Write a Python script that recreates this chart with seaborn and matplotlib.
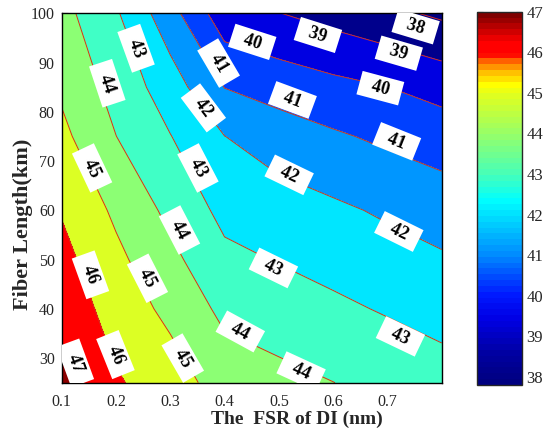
import matplotlib
matplotlib.use("Agg")
import matplotlib.pyplot as plt
import seaborn as sns
import numpy as np
from matplotlib.colors import LinearSegmentedColormap, Normalize
from matplotlib.cm import ScalarMappable

# FSR of the DI (nm) and fiber length (km) grid
fsr = [0.1, 0.2, 0.3, 0.4, 0.5, 0.6, 0.7, 0.8]
length = [25, 40, 50, 60, 75, 85, 100]

# values, one row per fiber length
osnr = [
    [47.19, 46.11, 45.48, 44.55, 44.28, 44.01, 43.72, 43.43],  # 25 km
    [46.65, 45.58, 44.75, 43.76, 43.48, 43.19, 42.91, 42.63],  # 40 km
    [46.30, 45.23, 44.25, 43.23, 42.95, 42.68, 42.40, 42.12],  # 50 km
    [45.93, 44.82, 43.76, 42.73, 42.46, 42.18, 41.86, 41.53],  # 60 km
    [45.24, 44.01, 43.03, 42.01, 41.50, 41.13, 40.81, 40.53],  # 75 km
    [44.83, 43.65, 42.49, 40.98, 40.60, 40.28, 40.01, 39.64],  # 85 km
    [44.31, 43.12, 41.37, 39.39, 39.02, 38.63, 38.23, 37.83],  # 100 km
]

levels = [38, 39, 40, 41, 42, 43, 44, 45, 46, 47]
x_ticks = [0.1, 0.2, 0.3, 0.4, 0.5, 0.6, 0.7]
y_ticks = [30, 40, 50, 60, 70, 80, 90, 100]
cbar_ticks = [38, 39, 40, 41, 42, 43, 44, 45, 46, 47]

# where the inline labels sit (data coords)
label_spots = [
    (0.752, 97.3),
    (0.572, 95.6), (0.721, 91.9),
    (0.451, 94.2), (0.687, 84.8),
    (0.389, 89.9), (0.525, 82.4), (0.717, 74.0),
    (0.361, 80.8), (0.519, 67.2), (0.721, 55.7),
    (0.237, 92.9), (0.351, 68.6), (0.490, 48.3), (0.724, 34.4),
    (0.184, 85.8), (0.317, 56.0), (0.429, 35.4), (0.541, 27.3),
    (0.156, 68.6), (0.258, 46.2), (0.323, 30.0),
    (0.153, 46.9), (0.199, 30.7),
    (0.125, 29.0),
]

band_colors = ["#000080", "#00008c", "#0000e1", "#0040ff", "#0096ff", "#00e6ff",
               "#40ffc6", "#8cff74", "#dcff24", "#ff0000", "#8c0000"]

cbar_anchors = [
    (37.8, "#000080"), (38.5, "#0000a0"), (39.4, "#0000e6"), (40.0, "#0019ff"),
    (41.0, "#008cff"), (42.0, "#00e1ff"), (42.35, "#00ffff"), (43.0, "#46ffb9"),
    (44.0, "#96ff69"), (45.0, "#e1ff1e"), (45.25, "#ffff00"), (45.6, "#ffb400"),
    (45.85, "#ff5a00"), (46.0, "#ff0000"), (46.3, "#ff0000"), (47.0, "#800000"),
]

sns.set_style("ticks")
plt.rcParams['font.family'] = ['Liberation Serif', 'DejaVu Serif']

fig = plt.figure(figsize=(5.47, 4.29), dpi=100)
ax = fig.add_axes([0.1128, 0.108, 0.6947, 0.861])
cax = fig.add_axes([0.8726, 0.1026, 0.0823, 0.870])

ax.contourf(fsr, length, osnr, levels=[30] + levels + [50], colors=band_colors)
cs = ax.contour(fsr, length, osnr, levels=levels, colors="#d2321e", linewidths=0.7)
texts = ax.clabel(cs, levels=levels, manual=label_spots, inline=False,
                  fmt=lambda v: "  %d  " % v, fontsize=13)
for t, spot in zip(texts, label_spots):
    t.set_position(spot)
    t.set_fontweight("bold")
    t.set_color("black")
    t.set_clip_on(True)
    t.set_bbox(dict(boxstyle="square,pad=0.2", facecolor="white", edgecolor="none"))

ax.set_xlim(0.1, 0.8)
ax.set_ylim(25, 100)
ax.set_xticks(x_ticks)
ax.set_xticklabels([f"{v:.1f}" for v in x_ticks])
ax.set_yticks(y_ticks)
ax.tick_params(direction="in", top=True, right=True, length=4, width=0.8,
               labelsize=11.5)
ax.tick_params(axis="x", pad=8)
ax.tick_params(axis="y", pad=5)
for s in ax.spines.values():
    s.set_linewidth(1.0)
    s.set_color("black")
ax.set_xlabel("The  FSR of DI (nm)", fontsize=14, fontweight="bold")
ax.set_ylabel("Fiber Length(km)", fontsize=16, fontweight="bold")
ax.xaxis.set_label_coords(0.62, -0.075)
ax.yaxis.set_label_coords(-0.075, 0.43)

vmin, vmax = 37.8, 47.0
cmap = LinearSegmentedColormap.from_list(
    "bar", [((v - vmin) / (vmax - vmin), c) for v, c in cbar_anchors], N=64)
cb = fig.colorbar(ScalarMappable(norm=Normalize(vmin, vmax), cmap=cmap), cax=cax)
cb.set_ticks(cbar_ticks)
cax.tick_params(direction="in", left=True, right=True, length=4, width=0.8,
                labelsize=12, pad=3)
cb.outline.set_linewidth(1.0)

fig.savefig("out.png", dpi=100)
